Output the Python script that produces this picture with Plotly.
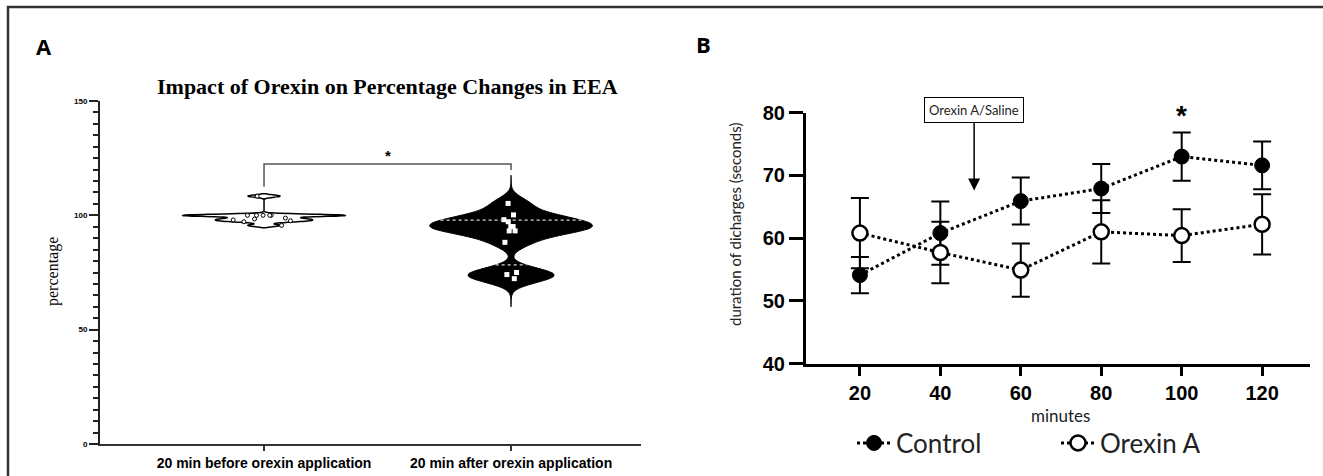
import numpy as np
import plotly.graph_objects as go

# ---------------- data ----------------
# Panel A : percentage values per condition
group_labels = ["20 min before orexin application", "20 min after orexin application"]
before_pct = [108.4, 100.0, 100.0, 100.0, 100.0, 100.0, 98.8, 98.4, 98.0, 97.6, 97.2, 95.6]
after_pct = [105.2, 100.2, 98.1, 97.2, 95.1, 95.1, 93.2, 93.2, 88.2, 75.0, 74.1, 72.3]
pct_ticks = [0, 50, 100, 150]

# Panel B : duration of discharges (mean +/- SEM)
minutes = [20, 40, 60, 80, 100, 120]
control_mean = [54.1, 60.8, 65.9, 67.9, 73.0, 71.6]
control_sem = [2.9, 5.05, 3.75, 3.9, 3.85, 3.8]
orexin_mean = [60.8, 57.7, 54.9, 61.0, 60.4, 62.2]
orexin_sem = [5.6, 4.9, 4.25, 5.05, 4.2, 4.8]
dur_ticks = [40, 50, 60, 70, 80]

W, H = 1323, 476
def px_x(p):
    return p / W
def px_y(p):
    return 1 - p / H

VW = 0.66  # violin width (data units)
BW_BEFORE, BW_AFTER = 0.5, 2.9
SPAN_AFTER = [60, 117.5]


def kde_halfwidth(data, bw, span, ys):
    data = np.asarray(data, float)
    grid = np.linspace(span[0], span[1], 600)
    dens = lambda y: np.exp(-0.5 * ((np.atleast_1d(y)[:, None] - data[None, :]) / bw) ** 2).sum(axis=1)
    m = dens(grid).max()
    return VW / 2 * dens(ys) / m

fig = go.Figure()

# ---------------- Panel A ----------------
fig.add_trace(go.Violin(
    x=[0] * len(before_pct), y=before_pct, xaxis="x", yaxis="y",
    bandwidth=BW_BEFORE, spanmode="soft", scalemode="width", width=VW,
    fillcolor="white", line=dict(color="black", width=1.5),
    points="all", pointpos=0, jitter=0.5,
    marker=dict(color="white", size=4, line=dict(color="black", width=1)),
    showlegend=False, hoverinfo="skip", box_visible=False, meanline_visible=False,
))
fig.add_trace(go.Violin(
    x=[1] * len(after_pct), y=after_pct, xaxis="x", yaxis="y",
    bandwidth=BW_AFTER, spanmode="manual", span=SPAN_AFTER, scalemode="width", width=VW,
    fillcolor="black", line=dict(color="black", width=1),
    points="all", pointpos=0, jitter=0.12,
    marker=dict(color="white", size=5, symbol="square"),
    showlegend=False, hoverinfo="skip", box_visible=False, meanline_visible=False,
))
# quartile lines of the "after" violin
q = np.quantile(after_pct, [0.25, 0.75], method="weibull")
hw = kde_halfwidth(after_pct, BW_AFTER, SPAN_AFTER, q)
for qq, h in zip(q, hw):
    fig.add_trace(go.Scatter(
        x=[1 - h, 1 + h], y=[qq, qq], mode="lines", xaxis="x", yaxis="y",
        line=dict(color="#d9d9d9", width=1.3, dash="dot"),
        showlegend=False, hoverinfo="skip"))

# significance bracket
br_low_left, br_top, br_low_right, star_y = 112.5, 122.4, 119.8, 126.0
fig.add_trace(go.Scatter(
    x=[0, 0, 1, 1], y=[br_low_left, br_top, br_top, br_low_right], mode="lines",
    xaxis="x", yaxis="y", line=dict(color="#555555", width=1.5),
    showlegend=False, hoverinfo="skip"))

# ---------------- Panel B ----------------
fig.add_trace(go.Scatter(
    x=minutes, y=control_mean, name="Control", mode="lines+markers",
    xaxis="x2", yaxis="y2",
    line=dict(color="black", width=3, dash="dot"),
    marker=dict(symbol="circle", size=15, color="black", line=dict(color="black", width=1)),
    error_y=dict(type="data", array=control_sem, visible=True, color="black", thickness=2, width=9),
    hoverinfo="skip"))
fig.add_trace(go.Scatter(
    x=minutes, y=orexin_mean, name="Orexin A", mode="lines+markers",
    xaxis="x2", yaxis="y2",
    line=dict(color="black", width=3, dash="dot"),
    marker=dict(symbol="circle", size=15, color="white", line=dict(color="black", width=2.5)),
    error_y=dict(type="data", array=orexin_sem, visible=True, color="black", thickness=2, width=9),
    hoverinfo="skip"))

def note(text, x, y, font, xref="paper", yref="paper", **kw):
    d = dict(text=text, x=x, y=y, xref=xref, yref=yref, showarrow=False,
             xanchor="center", yanchor="middle", font=font)
    d.update(kw)
    return d

ann = [
    note("A", px_x(44), px_y(46), dict(family="Open Sans", size=22, color="black", weight="bold")),
    note("B", px_x(703), px_y(44), dict(family="Open Sans", size=22, color="black", weight="bold")),
    note("Impact of Orexin on Percentage Changes in EEA", px_x(387), px_y(86),
         dict(family="Liberation Serif", size=22, color="black", weight="bold")),
    note("percentage", px_x(53), px_y(272), dict(family="Liberation Serif", size=16, color="black"),
         textangle=-90),
    note("*", 0.5, star_y, dict(family="Liberation Sans", size=15, color="black", weight="bold"),
         xref="x", yref="y"),
    note("duration of dicharges (seconds)", px_x(735), px_y(225),
         dict(family="Lato", size=15, color="#222"), textangle=-90),
    note("minutes", px_x(1060), px_y(415), dict(family="Lato", size=17, color="#222")),
    note("*", 100, 80, dict(family="Liberation Sans", size=28, color="black", weight="bold"),
         xref="x2", yref="y2", yshift=-3),
]
ann.append(dict(text="Orexin A/Saline", x=48.4, y=67.6, xref="x2", yref="y2",
                ax=0, ay=-80, axref="pixel", ayref="pixel", showarrow=True,
                arrowhead=2, arrowsize=1.6, arrowwidth=1.5, arrowcolor="black",
                bordercolor="black", borderwidth=1, borderpad=4, bgcolor="white",
                font=dict(family="Lato", size=13, color="#222")))

fig.update_layout(
    width=W, height=H, margin=dict(l=0, r=0, t=0, b=0),
    paper_bgcolor="white", plot_bgcolor="white",
    annotations=ann,
    shapes=[dict(type="rect", xref="paper", yref="paper", x0=px_x(8), x1=1.05,
                 y0=-0.05, y1=px_y(7), line=dict(color="#333", width=2.5))],
    xaxis=dict(domain=[px_x(100), px_x(641)], range=[-0.664, 1.526], anchor="y",
               tickvals=[0, 1], ticktext=group_labels, ticks="outside", ticklen=5, tickwidth=1.5,
               tickcolor="#333", showline=True, linecolor="#333", linewidth=2,
               showgrid=False, zeroline=False, automargin=False,
               tickfont=dict(family="Liberation Sans", size=14, color="black", weight="bold")),
    yaxis=dict(domain=[px_y(444), px_y(101)], range=[0, 150], anchor="x",
               tickvals=pct_ticks, ticks="outside", ticklen=9, tickwidth=2, tickcolor="#222",
               minor=dict(dtick=5, ticks="outside", ticklen=5, tickwidth=1.5, tickcolor="#222"),
               showline=True, linecolor="#222", linewidth=2,
               showgrid=False, zeroline=False, automargin=False,
               tickfont=dict(family="Liberation Sans", size=8, color="black", weight="bold")),
    xaxis2=dict(domain=[px_x(806), px_x(1310)], range=[6.6, 131.9], anchor="y2",
                tickvals=minutes, ticks="outside", ticklen=9, tickwidth=2.5, tickcolor="black",
                showline=True, linecolor="black", linewidth=3,
                showgrid=False, zeroline=False, automargin=False,
                tickfont=dict(family="Liberation Sans", size=20, color="black", weight="bold")),
    yaxis2=dict(domain=[px_y(363.5), px_y(112.7)], range=[40, 80], anchor="x2",
                tickvals=dur_ticks, ticks="outside", ticklen=14, tickwidth=2.5, tickcolor="black",
                showline=True, linecolor="black", linewidth=3,
                showgrid=False, zeroline=False, automargin=False,
                tickfont=dict(family="Liberation Sans", size=20, color="black", weight="bold")),
    legend=dict(orientation="h", x=px_x(852), xanchor="left", y=px_y(443), yanchor="middle",
                font=dict(family="Lato", size=26, color="#222"), bgcolor="rgba(0,0,0,0)",
                itemwidth=34, entrywidth=155, entrywidthmode="pixels"),
    violinmode="overlay",
)

fig.write_html("out.html", config={"displayModeBar": False},
               post_script="document.body.style.margin='0';")
